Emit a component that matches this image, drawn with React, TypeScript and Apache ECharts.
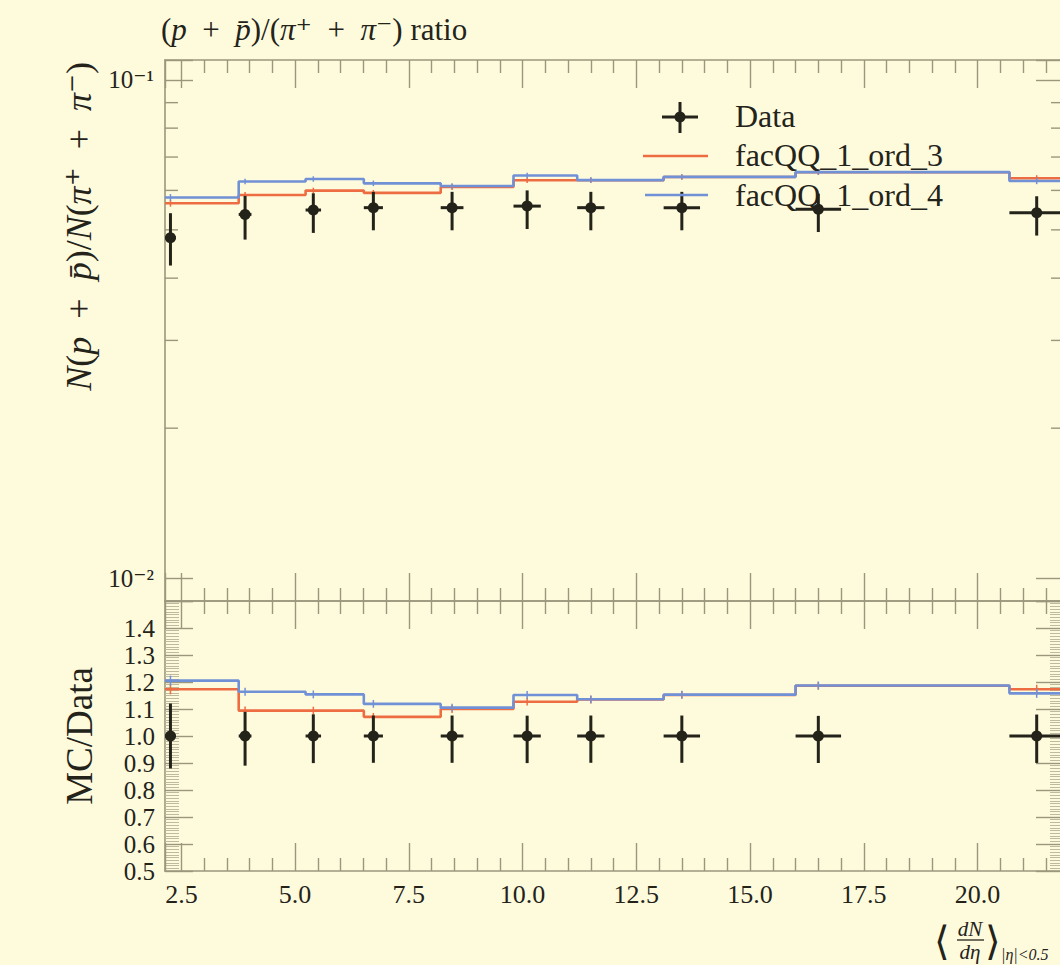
import React, { useEffect, useRef } from "react";
import * as echarts from "echarts";

// multiplicity classes: <dN/deta> and half-width of each class
const xCenters = [2.26, 3.9, 5.4, 6.72, 8.45, 10.1, 11.5, 13.5, 16.5, 21.3];
const xHalfWidths = [0.12, 0.14, 0.17, 0.21, 0.25, 0.3, 0.3, 0.4, 0.5, 0.6];

// data (p+pbar)/(pi+ + pi-)
const dataValues = [0.0482, 0.0537, 0.0548, 0.0554, 0.0554, 0.0558, 0.0554, 0.0554, 0.055, 0.0541];
const dataErrUp = [0.0058, 0.0048, 0.0044, 0.0042, 0.0042, 0.0042, 0.0042, 0.0042, 0.0041, 0.0043];
const dataErrDown = [0.0058, 0.0059, 0.0055, 0.0055, 0.0055, 0.0056, 0.0055, 0.0055, 0.0055, 0.0054];

// MC predictions
const ord3Values = [0.05654, 0.05875, 0.05995, 0.05933, 0.06094, 0.06289, 0.06288, 0.06382, 0.06523, 0.06346];
const ord4Values = [0.05808, 0.06251, 0.06324, 0.06199, 0.06122, 0.06428, 0.06293, 0.06388, 0.06529, 0.06265];
const ord3Errors = [0.0009, 0.0008, 0.0008, 0.0008, 0.0008, 0.0008, 0.0008, 0.0008, 0.0008, 0.0009];
const ord4Errors = [0.0009, 0.0008, 0.0008, 0.0008, 0.0008, 0.0008, 0.0008, 0.0008, 0.0008, 0.0009];

// axes
const xTickStep = 2.5;
const yMainRange = [0.009, 0.1096];
const logMinorTicks = [0.02, 0.03, 0.04, 0.05, 0.06, 0.07, 0.08, 0.09];
const ratioRange = [0.5, 1.5];
const ratioStep = 0.1;

const seriesNames = ["Data", "facQQ_1_ord_3", "facQQ_1_ord_4"];

const FONT = '"Liberation Serif", "DejaVu Serif", serif';
const INK = "#24231a";
const FRAME = "#9a977c";
const MINOR = "#bdbaa0";
const RED = "#ee6c42";
const BLUE = "#7191d6";
const BG = "#fefbdd";
const SP = "\u2002";

const X_MIN = xCenters[0] - xHalfWidths[0];
const X_MAX = xCenters[xCenters.length - 1] + xHalfWidths[xHalfWidths.length - 1];
const binLow = xCenters.map((x, i) => x - xHalfWidths[i]);
const binHigh = xCenters.map((x, i) => x + xHalfWidths[i]);

const stepPoints = (vals: number[]) =>
  vals.flatMap((v, i) => [
    [binLow[i], v],
    [i < vals.length - 1 ? binLow[i + 1] : binHigh[i], v],
  ]);

const isMult = (v: number, s: number) => Math.abs(v / s - Math.round(v / s)) < 1e-6;

const crossRender = (color: string, lw: number, r: number) => (params: any, api: any) => {
  const x = api.value(0);
  const y = api.value(1);
  const ex = api.value(2);
  const eu = api.value(3);
  const ed = api.value(4);
  const c = api.coord([x, y]);
  const xl = api.coord([x - ex, y])[0];
  const xr = api.coord([x + ex, y])[0];
  const yt = api.coord([x, y + eu])[1];
  const yb = api.coord([x, y - ed])[1];
  const children: any[] = [];
  if (ex > 0)
    children.push({ type: "line", shape: { x1: xl, y1: c[1], x2: xr, y2: c[1] }, style: { stroke: color, lineWidth: lw } });
  children.push({ type: "line", shape: { x1: c[0], y1: yt, x2: c[0], y2: yb }, style: { stroke: color, lineWidth: lw } });
  if (r > 0) children.push({ type: "circle", shape: { cx: c[0], cy: c[1], r }, style: { fill: color } });
  return { type: "group", children };
};

const axisLine = { show: true, onZero: false, lineStyle: { color: FRAME, width: 1.6 } };

const xAxisDef = (gridIndex: number, position: string, labels: boolean) => ({
  type: "value",
  gridIndex,
  position,
  min: X_MIN,
  max: X_MAX,
  minInterval: xTickStep,
  maxInterval: xTickStep,
  splitNumber: 8,
  axisLine,
  axisTick: { show: true, inside: true, length: 28, lineStyle: { color: FRAME, width: 1.4 } },
  minorTick: { show: true, splitNumber: 5, length: 13, lineStyle: { color: FRAME, width: 1.4 } },
  splitLine: { show: false },
  minorSplitLine: { show: false },
  axisLabel: {
    show: labels,
    margin: 10,
    color: INK,
    fontFamily: FONT,
    fontSize: 26,
    formatter: (v: number) => (isMult(v, xTickStep) ? v.toFixed(1) : ""),
  },
});

const logAxisDef = (position: string, labels: boolean) => ({
  type: "log",
  logBase: 10,
  gridIndex: 0,
  position,
  min: yMainRange[0],
  max: yMainRange[1],
  axisLine,
  axisTick: { show: true, inside: true, length: 28, lineStyle: { color: FRAME, width: 1.4 } },
  minorTick: { show: false },
  splitLine: { show: false },
  axisLabel: {
    show: labels,
    margin: 11,
    color: INK,
    fontFamily: FONT,
    fontSize: 25,
    formatter: (v: number) => {
      const l = Math.log10(v);
      if (Math.abs(l - Math.round(l)) > 1e-6) return "";
      return Math.round(l) === -1 ? "10⁻¹" : "10⁻²";
    },
  },
});

const ratioAxisDef = (position: string, labels: boolean) => ({
  type: "value",
  gridIndex: 1,
  position,
  min: ratioRange[0],
  max: ratioRange[1],
  interval: ratioStep,
  axisLine,
  axisTick: { show: true, inside: true, length: 28, lineStyle: { color: FRAME, width: 1.4 } },
  minorTick: { show: true, splitNumber: 10, length: 14, lineStyle: { color: MINOR, width: 1 } },
  splitLine: { show: false },
  axisLabel: {
    show: labels,
    margin: 10,
    color: INK,
    fontFamily: FONT,
    fontSize: 25,
    formatter: (v: number) => (v > ratioRange[1] - ratioStep / 2 ? "" : v.toFixed(1)),
  },
});

const ratioOf = (vals: number[]) => vals.map((v, i) => v / dataValues[i]);

function buildOption() {
  const dataTop = xCenters.map((x, i) => [x, dataValues[i], xHalfWidths[i], dataErrUp[i], dataErrDown[i]]);
  const dataRatio = xCenters.map((x, i) => [x, 1, xHalfWidths[i], dataErrUp[i] / dataValues[i], dataErrDown[i] / dataValues[i]]);
  const mcErrTop = (vals: number[], errs: number[]) => xCenters.map((x, i) => [x, vals[i], 0, errs[i], errs[i]]);
  const mcErrRatio = (vals: number[], errs: number[]) =>
    xCenters.map((x, i) => [x, vals[i] / dataValues[i], 0, errs[i] / dataValues[i], errs[i] / dataValues[i]]);

  const lineSeries = (name: string, vals: number[], color: string, xi: number, yi: number) => ({
    type: "line",
    name,
    xAxisIndex: xi,
    yAxisIndex: yi,
    data: stepPoints(vals),
    symbol: "none",
    lineStyle: { color, width: 2.6 },
    z: 3,
  });
  const customSeries = (name: string, data: any[], color: string, lw: number, r: number, xi: number, yi: number, z: number) => ({
    type: "custom",
    name,
    xAxisIndex: xi,
    yAxisIndex: yi,
    data,
    renderItem: crossRender(color, lw, r),
    z,
  });

  const ratio3 = ratioOf(ord3Values);
  const ratio4 = ratioOf(ord4Values);

  const txt = (x: number, y: number, text: string, size: number, extra: any = {}) => ({
    type: "text",
    x,
    y,
    z: 10,
    style: { text, fill: INK, fontFamily: FONT, fontSize: size, align: "left", verticalAlign: "middle", ...extra },
  });

  const rich = (size: number) => ({
    n: { fontFamily: FONT, fontSize: size, fill: INK },
    i: { fontFamily: FONT, fontSize: size, fill: INK, fontStyle: "italic" },
  });

  return {
    animation: false,
    backgroundColor: BG,
    grid: [
      { left: 165, top: 60, width: 899, height: 541 },
      { left: 165, top: 601, width: 899, height: 270 },
    ],
    xAxis: [
      xAxisDef(0, "bottom", false),
      xAxisDef(0, "top", false),
      xAxisDef(1, "bottom", true),
      xAxisDef(1, "top", false),
    ],
    yAxis: [logAxisDef("left", true), logAxisDef("right", false), ratioAxisDef("left", true), ratioAxisDef("right", false)],
    series: [
      {
        type: "custom",
        name: "minor",
        xAxisIndex: 0,
        yAxisIndex: 0,
        data: logMinorTicks.map((v) => [X_MIN, v]),
        renderItem: (params: any, api: any) => {
          const v = api.value(1);
          const pl = api.coord([X_MIN, v]);
          const pr = api.coord([X_MAX, v]);
          const st = { stroke: FRAME, lineWidth: 1.4 };
          return {
            type: "group",
            children: [
              { type: "line", shape: { x1: pl[0], y1: pl[1], x2: pl[0] + 13, y2: pl[1] }, style: st },
              { type: "line", shape: { x1: pr[0] - 13, y1: pr[1], x2: pr[0], y2: pr[1] }, style: st },
            ],
          };
        },
        z: 1,
      },
      lineSeries(seriesNames[1], ord3Values, RED, 0, 0),
      lineSeries(seriesNames[2], ord4Values, BLUE, 0, 0),
      customSeries("e3", mcErrTop(ord3Values, ord3Errors), RED, 1.5, 0, 0, 0, 4),
      customSeries("e4", mcErrTop(ord4Values, ord4Errors), BLUE, 1.5, 0, 0, 0, 4),
      customSeries(seriesNames[0], dataTop, INK, 3, 5.5, 0, 0, 5),
      lineSeries(seriesNames[1] + " ratio", ratio3, RED, 2, 2),
      lineSeries(seriesNames[2] + " ratio", ratio4, BLUE, 2, 2),
      customSeries("r3", mcErrRatio(ord3Values, ord3Errors), RED, 1.5, 0, 2, 2, 4),
      customSeries("r4", mcErrRatio(ord4Values, ord4Errors), BLUE, 1.5, 0, 2, 2, 4),
      customSeries(seriesNames[0] + " ratio", dataRatio, INK, 3, 5.5, 2, 2, 5),
    ],
    graphic: [
      {
        type: "text",
        x: 161,
        y: 29,
        style: {
          text: `{n|(}{i|p}{n|${SP}+${SP}}{i|p̄}{n|)/(}{i|π}{n|⁺${SP}+${SP}}{i|π}{n|⁻) ratio}`,
          rich: rich(31),
          verticalAlign: "middle",
        },
      },
      {
        type: "text",
        x: 79,
        y: 62,
        rotation: Math.PI / 2,
        style: {
          text: `{i|N}{n|(}{i|p}{n|${SP}+${SP}}{i|p̄}{n|)/}{i|N}{n|(}{i|π}{n|⁺${SP}+${SP}}{i|π}{n|⁻)}`,
          rich: rich(36),
          align: "right",
          verticalAlign: "middle",
        },
      },
      {
        type: "text",
        x: 79,
        y: 736,
        rotation: Math.PI / 2,
        style: { text: "MC/Data", fill: INK, fontFamily: FONT, fontSize: 37, align: "center", verticalAlign: "middle" },
      },
      // legend
      { type: "line", shape: { x1: 680, y1: 102, x2: 680, y2: 133 }, style: { stroke: INK, lineWidth: 3 }, z: 10 },
      { type: "line", shape: { x1: 662, y1: 117, x2: 698, y2: 117 }, style: { stroke: INK, lineWidth: 3 }, z: 10 },
      { type: "circle", shape: { cx: 680, cy: 117, r: 5.5 }, style: { fill: INK }, z: 10 },
      txt(735, 116, seriesNames[0], 32),
      { type: "line", shape: { x1: 643, y1: 156, x2: 708, y2: 156 }, style: { stroke: RED, lineWidth: 2.6 }, z: 10 },
      txt(735, 155, seriesNames[1], 32),
      { type: "line", shape: { x1: 645, y1: 195, x2: 708, y2: 195 }, style: { stroke: BLUE, lineWidth: 2.6 }, z: 10 },
      txt(735, 195, seriesNames[2], 32),
      // x-axis title
      txt(934, 941, "⟨", 40),
      txt(970, 929, "dN", 21, { align: "center", fontStyle: "italic" }),
      { type: "line", shape: { x1: 957, y1: 940, x2: 984, y2: 940 }, style: { stroke: INK, lineWidth: 1.3 }, z: 10 },
      txt(970, 952, "dη", 21, { align: "center", fontStyle: "italic" }),
      txt(985, 941, "⟩", 40),
      txt(1001, 954, "|η|<0.5", 16, { fontStyle: "italic" }),
    ],
  };
}

export default function App() {
  const ref = useRef<HTMLDivElement>(null);
  useEffect(() => {
    const chart = echarts.init(ref.current!, undefined, { renderer: "svg" });
    chart.setOption(buildOption() as any);
    return () => chart.dispose();
  }, []);
  return (
    <div style={{ position: "fixed", left: 0, top: 0, width: 1060, height: 965, overflow: "hidden", background: BG }}>
      <div ref={ref} style={{ width: 1090, height: 965 }} />
    </div>
  );
}
